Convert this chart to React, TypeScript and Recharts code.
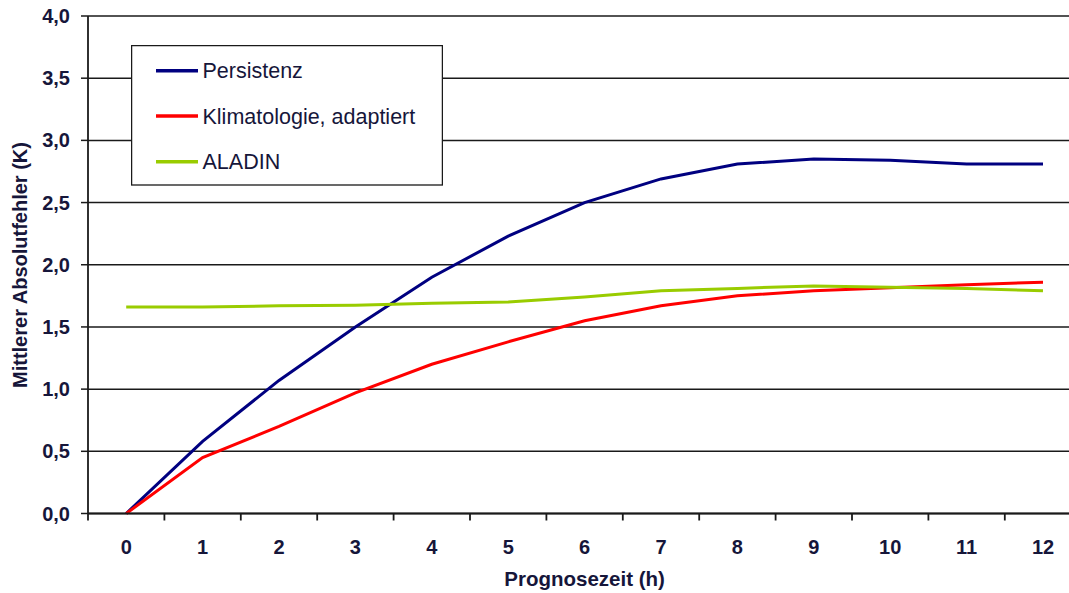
import React from 'react';
import { LineChart, Line, XAxis, YAxis, CartesianGrid, Legend, Label } from 'recharts';

const hours = [0, 1, 2, 3, 4, 5, 6, 7, 8, 9, 10, 11, 12];
const persistenz = [0, 0.58, 1.07, 1.5, 1.9, 2.23, 2.5, 2.69, 2.81, 2.85, 2.84, 2.81, 2.81];
const klimatologie = [0, 0.45, 0.7, 0.97, 1.2, 1.38, 1.55, 1.67, 1.75, 1.79, 1.815, 1.84, 1.86];
const aladin = [1.66, 1.66, 1.67, 1.675, 1.69, 1.7, 1.74, 1.79, 1.81, 1.83, 1.82, 1.81, 1.79];
const yTicks = [0, 0.5, 1, 1.5, 2, 2.5, 3, 3.5, 4];
const xTicks = [-0.5, 0, 0.5, 1, 1.5, 2, 2.5, 3, 3.5, 4, 4.5, 5, 5.5, 6, 6.5, 7, 7.5, 8, 8.5, 9, 9.5, 10, 10.5, 11, 11.5, 12, 12.5];

const seriesNames = ['Persistenz', 'Klimatologie, adaptiert', 'ALADIN'];
const seriesColors = ['#000080', '#ff0000', '#99cc00'];

const data = hours.map((h, i) => ({
  t: h,
  p: persistenz[i],
  k: klimatologie[i],
  a: aladin[i],
}));

const FONT = '"Liberation Sans", Arial, Helvetica, sans-serif';
const TEXT = '#16163a';

const XTick = (props: any) => {
  const { x, y, payload } = props;
  const v = payload.value;
  if (Number.isInteger(v)) {
    return (
      <text x={x} y={y + 40} textAnchor="middle" fontFamily={FONT} fontWeight="bold" fontSize={20} fill={TEXT}>
        {String(v)}
      </text>
    );
  }
  return <line x1={x} x2={x} y1={y} y2={y + 7} stroke="#1a1a1a" strokeWidth={1.8} />;
};

const LegendBox = () => {
  const rows = [25.7, 71, 116.7];
  return (
    <svg width={312} height={141} style={{ display: 'block' }}>
      <rect x={0.6} y={0.6} width={310.8} height={139.4} fill="#fff" stroke="#1a1a1a" strokeWidth={1.3} />
      {seriesNames.map((name, i) => (
        <g key={name}>
          <line x1={25} x2={67} y1={rows[i]} y2={rows[i]} stroke={seriesColors[i]} strokeWidth={3.5} />
          <text x={71.5} y={rows[i] + 7.5} fontFamily={FONT} fontSize={21.5} fill={TEXT}>
            {name}
          </text>
        </g>
      ))}
    </svg>
  );
};

export default function App() {
  return (
    <div style={{ position: 'absolute', left: 0, top: 0, width: 1069, height: 593, overflow: 'hidden', background: '#fff' }}>
      <LineChart width={1090} height={593} data={data} margin={{ top: 16, right: 8.8, left: 0, bottom: 0 }}>
        <CartesianGrid vertical={false} stroke="#1a1a1a" strokeWidth={1.5} />
        <XAxis
          dataKey="t"
          type="number"
          domain={[-0.5, 12.5]}
          ticks={xTicks}
          interval={0}
          tick={<XTick />}
          tickLine={false}
          tickSize={0}
          tickMargin={0}
          height={79.5}
          axisLine={{ stroke: '#1a1a1a', strokeWidth: 1.8 }}
          allowDataOverflow
        >
          <Label
            content={(p: any) => {
              const vb = p.viewBox || {};
              return (
                <text x={vb.x + vb.width / 2} y={vb.y + 72} textAnchor="middle" fontFamily={FONT} fontWeight="bold" fontSize={20.5} fill={TEXT}>
                  Prognosezeit (h)
                </text>
              );
            }}
          />
        </XAxis>
        <YAxis
          type="number"
          domain={[0, 4]}
          ticks={yTicks}
          interval={0}
          width={88}
          tickSize={7}
          tickMargin={11}
          tickFormatter={(v: number) => v.toFixed(1).replace('.', ',')}
          tick={{ fontFamily: FONT, fontWeight: 'bold', fontSize: 20, fill: TEXT }}
          tickLine={{ stroke: '#1a1a1a', strokeWidth: 1.5 }}
          axisLine={{ stroke: '#1a1a1a', strokeWidth: 1.8 }}
        >
          <Label
            content={() => (
              <text
                x={27}
                y={265}
                transform="rotate(-90 27 265)"
                textAnchor="middle"
                fontFamily={FONT}
                fontWeight="bold"
                fontSize={20}
                fill={TEXT}
              >
                Mittlerer Absolutfehler (K)
              </text>
            )}
          />
        </YAxis>
        <Legend
          layout="vertical"
          align="center"
          verticalAlign="middle"
          content={<LegendBox />}
          wrapperStyle={{ position: 'absolute', left: 131, top: 44.5, width: 312, height: 141 }}
        />
        <Line dataKey="p" name={seriesNames[0]} stroke={seriesColors[0]} strokeWidth={3} dot={false} type="linear" isAnimationActive={false} />
        <Line dataKey="k" name={seriesNames[1]} stroke={seriesColors[1]} strokeWidth={3} dot={false} type="linear" isAnimationActive={false} />
        <Line dataKey="a" name={seriesNames[2]} stroke={seriesColors[2]} strokeWidth={3} dot={false} type="linear" isAnimationActive={false} />
      </LineChart>
    </div>
  );
}
